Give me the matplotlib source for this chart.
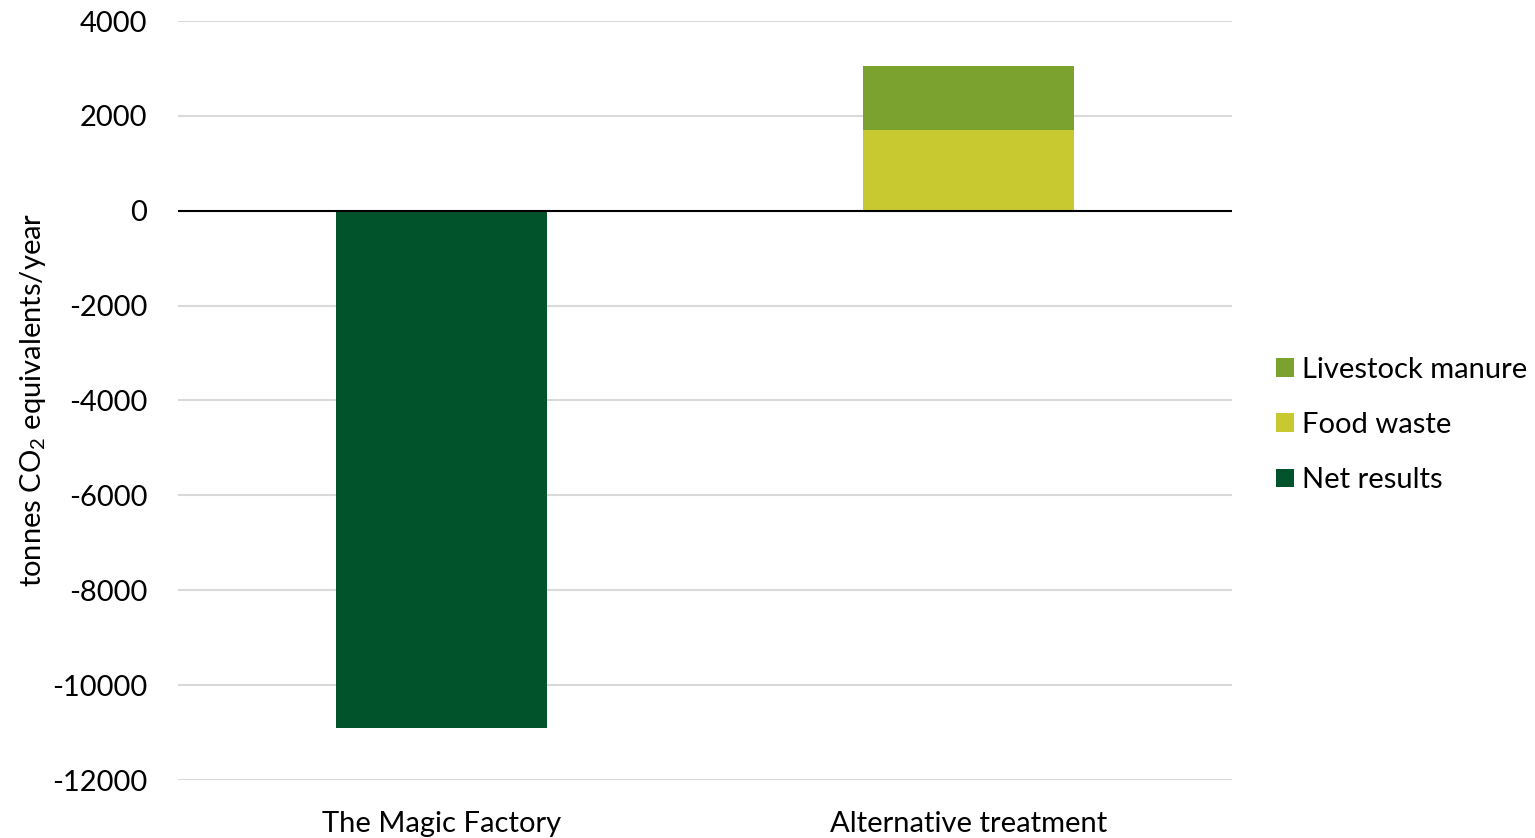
import matplotlib
matplotlib.use("Agg")
import matplotlib.pyplot as plt
import numpy as np

categories = ["The Magic Factory", "Alternative treatment"]
net_results = [-10900, 0]
food_waste = [0, 1700]
livestock_manure = [0, 1360]
yticks = [-12000, -10000, -8000, -6000, -4000, -2000, 0, 2000, 4000]

plt.rcParams['font.family'] = ['Lato', 'DejaVu Sans']
plt.rcParams['mathtext.fontset'] = 'custom'
plt.rcParams['mathtext.rm'] = 'Lato'
plt.rcParams['mathtext.it'] = 'Lato'

FS = 21

fig = plt.figure(figsize=(15.35, 8.38), dpi=100)
ax = fig.add_axes([178/1535, 1-780/838, (1232-178)/1535, (780-21)/838])

x = np.arange(len(categories))
w = 0.4
c_net = "#00532A"
c_food = "#C8C931"
c_live = "#7BA22F"
b_net = ax.bar(x, net_results, w, color=c_net, label="Net results", zorder=2)
b_food = ax.bar(x, food_waste, w, color=c_food, label="Food waste", zorder=2)
b_live = ax.bar(x, livestock_manure, w, bottom=food_waste, color=c_live, label="Livestock manure", zorder=2)

ax.set_xlim(-0.5, 1.5)
ax.set_ylim(-12000, 4000)
ax.set_yticks(yticks)
ax.set_yticklabels([str(t) for t in yticks])
ax.set_xticks(x)
ax.set_xticklabels(categories)
ax.yaxis.grid(True, color="#D9D9D9", linewidth=1.5, zorder=0)
ax.set_axisbelow(True)
ax.axhline(0, color="black", linewidth=1.5, zorder=3)
for s in ax.spines.values():
    s.set_visible(False)
ax.tick_params(axis='both', length=0, labelsize=FS)
ax.tick_params(axis='y', pad=22)
ax.tick_params(axis='x', pad=22.5)

fig.text(33/1535, 1-400/838, r"tonnes CO$_2$ equivalents/year", rotation=90,
         ha='center', va='center', fontsize=FS)

handles = [b_live, b_food, b_net]
leg = fig.legend(handles, [h.get_label() for h in handles], loc='center left',
                 bbox_to_anchor=(1276/1535, 1-425/838), frameon=False, fontsize=FS,
                 handlelength=0.6, handleheight=0.6, handletextpad=0.3,
                 labelspacing=1.0, borderaxespad=0, borderpad=0)

fig.savefig("out.png", dpi=100)
